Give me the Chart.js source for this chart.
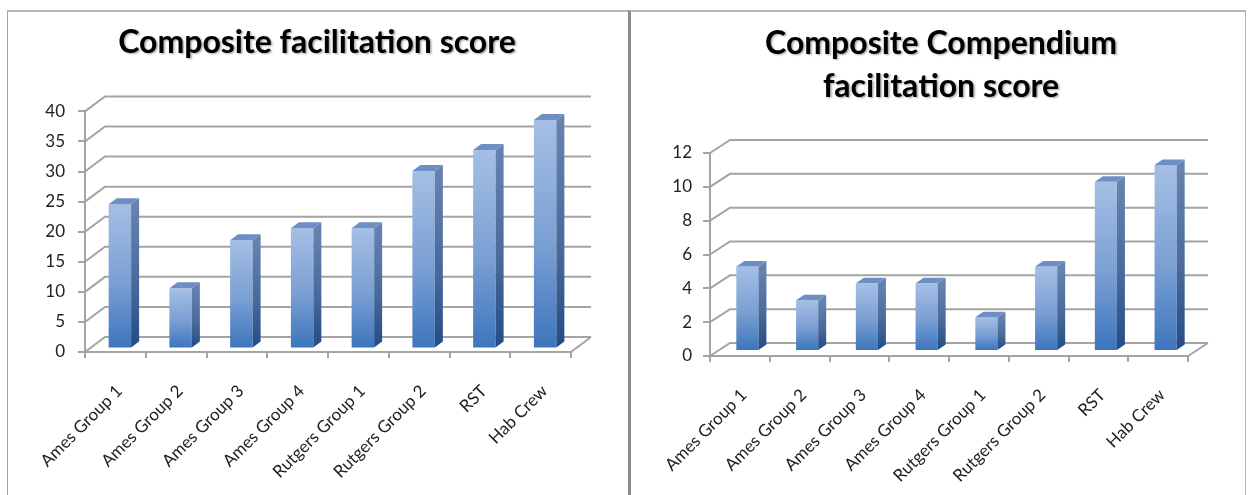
<!DOCTYPE html>
<html>
<head>
<meta charset="utf-8">
<title>Composite facilitation scores</title>
<script src="https://cdn.jsdelivr.net/npm/chart.js@4.4.1/dist/chart.umd.min.js"></script>
<style>
  html, body { margin: 0; padding: 0; background: #fff; }
  body { position: relative; width: 1250px; height: 495px; overflow: hidden; }
  .frame { position: absolute; box-sizing: border-box; }
  #frameLeft  { left: 7px;   top: 10px; width: 623px; height: 490px; border-top: 2px solid #b5b5b5; border-left: 1px solid #a0a0a0; }
  #frameRight { left: 628px; top: 10px; width: 618px; height: 490px; border-top: 2px solid #b5b5b5; border-left: 3px solid #8a8a8a; border-right: 1px solid #b5b5b5; }
  canvas { position: absolute; }
  #chartLeft  { left: 9px;   top: 12px; }
  #chartRight { left: 632px; top: 12px; }
</style>
</head>
<body>
<div class="frame" id="frameLeft"></div>
<div class="frame" id="frameRight"></div>
<canvas id="chartLeft" width="619" height="483"></canvas>
<canvas id="chartRight" width="611" height="483"></canvas>

<script>
// ---- data ----
const categories = ['Ames Group 1', 'Ames Group 2', 'Ames Group 3', 'Ames Group 4',
                    'Rutgers Group 1', 'Rutgers Group 2', 'RST', 'Hab Crew'];
const facilitationScores = [24, 10, 18, 20, 20, 29.5, 33, 38];
const compendiumScores   = [5, 3, 4, 4, 2, 5, 10, 11];
const facilitationTicks  = [0, 5, 10, 15, 20, 25, 30, 35, 40];
const compendiumTicks    = [0, 2, 4, 6, 8, 10, 12];
const facilitationTitle  = 'Composite facilitation score';
const compendiumTitle    = ['Composite Compendium', 'facilitation score'];

// ---- look ----
const FONT = 'Lato, "Open Sans", sans-serif';
const GRID = '#a4a4a4';

// Draws the back wall / side wall gridlines of a 3-D column chart and
// renders each bar as an extruded block (front, side and top faces).
const columns3d = {
  id: 'columns3d',
  afterLayout(chart, args, o) {
    const t = chart.titleBlock;
    if (!t) return;
    // centre the title over the whole frame rather than the padded box
    if (o.titleCenter != null) {
      const half = chart.width / 2;
      t.left = o.titleCenter - half;
      t.right = o.titleCenter + half;
    }
    // soft drop shadow behind the title text
    if (!t._shadowed) {
      const draw = t.draw;
      t.draw = function (area) {
        const ctx = chart.ctx;
        ctx.save();
        ctx.shadowColor = 'rgba(0, 0, 0, 0.35)';
        ctx.shadowBlur = 2;
        ctx.shadowOffsetX = 1.5;
        ctx.shadowOffsetY = 1.5;
        draw.call(this, area);
        ctx.restore();
      };
      t._shadowed = true;
    }
  },
  beforeDatasetsDraw(chart, args, o) {
    const { ctx, chartArea: a, scales: { y } } = chart;
    ctx.save();
    ctx.strokeStyle = GRID;
    ctx.lineWidth = 2;
    y.ticks.forEach(t => {
      const py = y.getPixelForValue(t.value);
      ctx.beginPath();
      ctx.moveTo(a.left, py);
      ctx.lineTo(a.left + o.wall.dx, py + o.wall.dy);
      ctx.lineTo(a.right + o.wall.dx, py + o.wall.dy);
      ctx.stroke();
    });
    // right edge of the floor
    const p0 = y.getPixelForValue(y.min);
    ctx.beginPath();
    ctx.moveTo(a.right, p0);
    ctx.lineTo(a.right + o.wall.dx, p0 + o.wall.dy);
    ctx.stroke();
    ctx.restore();
  },
  beforeDatasetDraw() {
    return false; // bars are painted in afterDatasetsDraw
  },
  afterDatasetsDraw(chart, args, o) {
    const { ctx } = chart;
    const meta = chart.getDatasetMeta(0);
    const f = o.front, d = o.bar;
    ctx.save();
    meta.data.forEach(el => {
      const { x, y, base, width } = el.getProps(['x', 'y', 'base', 'width'], true);
      const x0 = x - width / 2 + f.dx, x1 = x + width / 2 + f.dx;
      const yt = y + f.dy, yb = base + f.dy;

      // front face
      const g = ctx.createLinearGradient(0, yt, 0, yb);
      g.addColorStop(0, '#a5bfe4');
      g.addColorStop(0.55, '#7a9fd3');
      g.addColorStop(1, '#3d75bd');
      ctx.fillStyle = g;
      ctx.fillRect(x0, yt, x1 - x0, yb - yt);

      // side face
      const gs = ctx.createLinearGradient(0, yt, 0, yb);
      gs.addColorStop(0, '#6683b0');
      gs.addColorStop(0.55, '#4a6a9c');
      gs.addColorStop(1, '#234c84');
      ctx.fillStyle = gs;
      ctx.beginPath();
      ctx.moveTo(x1, yt);
      ctx.lineTo(x1 + d.dx, yt + d.dy);
      ctx.lineTo(x1 + d.dx, yb + d.dy);
      ctx.lineTo(x1, yb);
      ctx.closePath();
      ctx.fill();

      // top face
      ctx.fillStyle = '#6e8fc6';
      ctx.beginPath();
      ctx.moveTo(x0, yt);
      ctx.lineTo(x0 + d.dx, yt + d.dy);
      ctx.lineTo(x1 + d.dx, yt + d.dy);
      ctx.lineTo(x1, yt);
      ctx.closePath();
      ctx.fill();
    });
    ctx.restore();
  }
};

function columnChart(canvas, cfg) {
  return new Chart(canvas, {
    type: 'bar',
    data: {
      labels: categories,
      datasets: [{ data: cfg.values, barPercentage: 0.37, categoryPercentage: 1 }]
    },
    plugins: [columns3d],
    options: {
      responsive: false,
      animation: false,
      devicePixelRatio: 1,
      layout: { padding: { left: 0, right: cfg.padRight, top: 0, bottom: 0 } },
      plugins: {
        legend: { display: false },
        tooltip: { enabled: false },
        title: {
          display: true,
          text: cfg.title,
          color: '#000',
          font: { family: FONT, size: 32, weight: 'bold', lineHeight: cfg.titleLineHeight },
          padding: cfg.titlePadding
        },
        columns3d: cfg.depth
      },
      scales: {
        x: {
          offset: true,
          afterFit: s => { s.height = cfg.xHeight; },
          border: { display: true, color: GRID, width: 2 },
          grid: { offset: true, drawOnChartArea: false, drawTicks: true, tickLength: 6, color: GRID, lineWidth: 2 },
          ticks: { color: '#222', font: { family: FONT, size: 17 }, minRotation: 45, maxRotation: 45,
                   autoSkip: false, padding: 23, labelOffset: 4 }
        },
        y: {
          min: cfg.ticks[0],
          max: cfg.ticks[cfg.ticks.length - 1],
          afterFit: s => { s.width = cfg.yWidth; },
          afterBuildTicks: s => { s.ticks = cfg.ticks.map(v => ({ value: v })); },
          border: { display: true, color: GRID, width: 2 },
          grid: { drawOnChartArea: false, drawTicks: true, tickLength: 7, color: GRID, lineWidth: 2 },
          ticks: { color: '#222', font: { family: FONT, size: 17 }, padding: cfg.yPad }
        }
      }
    }
  });
}

columnChart(document.getElementById('chartLeft'), {
  values: facilitationScores,
  ticks: facilitationTicks,
  title: facilitationTitle,
  titleLineHeight: 1.2,
  titlePadding: { top: 11, bottom: 50 },
  padRight: 57,
  xHeight: 143,
  yWidth: 76,
  yPad: 13,
  depth: { titleCenter: 308, wall: { dx: 20, dy: -15 }, front: { dx: 4.5, dy: -3.5 }, bar: { dx: 8, dy: -6 } }
});

columnChart(document.getElementById('chartRight'), {
  values: compendiumScores,
  ticks: compendiumTicks,
  title: compendiumTitle,
  titleLineHeight: '43px',
  titlePadding: { top: 10, bottom: 45 },
  padRight: 55,
  xHeight: 139,
  yWidth: 78,
  yPad: 11,
  depth: { titleCenter: 309, wall: { dx: 20, dy: -13 }, front: { dx: 7.5, dy: -5 }, bar: { dx: 8, dy: -5.5 } }
});
</script>
</body>
</html>
